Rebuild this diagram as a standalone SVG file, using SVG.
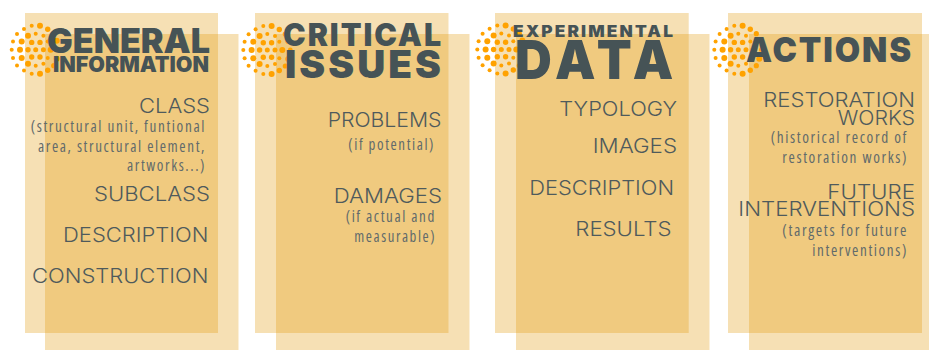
<svg xmlns="http://www.w3.org/2000/svg" width="929" height="350" viewBox="0 0 929 350">
<style>
.panel{fill:#e19808;fill-opacity:.3}
.burst circle{fill:#ffa200}
text{font-family:"Inter","Liberation Sans",sans-serif}
.t{font-weight:900;fill:#465356}
.h{font-weight:300;font-size:20px;fill:#4f5a5c}
.n{font-family:"Open Sans","Liberation Sans",sans-serif;font-stretch:75%;font-weight:400;font-size:17px;letter-spacing:1.8px;fill:#626a6b}
</style>
<defs>
<g id="burst" class="burst">
<circle cx="-24" cy="0" r="2"/><circle cx="-15.7" cy="0" r="3"/><circle cx="-7.7" cy="0" r="2.7"/><circle cx="0" cy="0" r="2.5"/><circle cx="7.7" cy="0" r="2.5"/><circle cx="15" cy="0" r="3"/><circle cx="23" cy="0" r="2.4"/>
<circle cx="-22.7" cy="-8.3" r="2"/><circle cx="-14" cy="-8.3" r="3"/><circle cx="-4" cy="-7.3" r="2.7"/><circle cx="4.3" cy="-7.3" r="2.7"/><circle cx="12" cy="-8.3" r="2"/><circle cx="21" cy="-9" r="3"/>
<circle cx="-22.7" cy="8.3" r="2"/><circle cx="-14" cy="8.3" r="3"/><circle cx="-4" cy="7.3" r="2.7"/><circle cx="4.3" cy="7.3" r="2.7"/><circle cx="12" cy="8.3" r="2"/><circle cx="21" cy="9" r="3"/>
<circle cx="-18.7" cy="-15.7" r="2"/><circle cx="-7.7" cy="-14" r="3"/><circle cx="0" cy="-16" r="2"/><circle cx="7.7" cy="-14" r="2"/><circle cx="18" cy="-16" r="2.6"/>
<circle cx="-18.7" cy="15.7" r="2"/><circle cx="-7.7" cy="14" r="3"/><circle cx="0" cy="16" r="2"/><circle cx="7.7" cy="14" r="2"/><circle cx="18" cy="16" r="2.6"/>
<circle cx="-11.7" cy="-20.7" r="2"/><circle cx="12" cy="-20.5" r="2.7"/><circle cx="-4" cy="-24" r="2"/><circle cx="4.3" cy="-24" r="3"/>
<circle cx="-11.7" cy="20.7" r="2"/><circle cx="12" cy="20.5" r="2.7"/><circle cx="-4" cy="24" r="2"/><circle cx="4.3" cy="24" r="3"/>
</g>
</defs>
<rect width="929" height="350" fill="#fff"/>
<g id="general-information">
<rect class="panel" x="25" y="13" width="193" height="320"/>
<rect class="panel" x="45" y="34" width="193.500" height="316"/>
<use href="#burst" x="35.700" y="49.700"/>
<text class="t" x="47" y="52.700" font-size="33.700" textLength="163" lengthAdjust="spacingAndGlyphs">GENERAL</text>
<text class="t" x="53" y="71.700" font-size="22" textLength="156" lengthAdjust="spacingAndGlyphs">INFORMATION</text>
<text class="h" x="139" y="113.300" textLength="71" lengthAdjust="spacingAndGlyphs">CLASS</text>
<text class="n" x="30.700" y="131.700" textLength="175.300" lengthAdjust="spacingAndGlyphs">(structural unit, funtional</text>
<text class="n" x="38" y="151.700" textLength="168" lengthAdjust="spacingAndGlyphs">area, structural element,</text>
<text class="n" x="127" y="171" textLength="79" lengthAdjust="spacingAndGlyphs">artworks...)</text>
<text class="h" x="94" y="200.700" textLength="116" lengthAdjust="spacingAndGlyphs">SUBCLASS</text>
<text class="h" x="63" y="241.700" textLength="145.500" lengthAdjust="spacingAndGlyphs">DESCRIPTION</text>
<text class="h" x="32" y="283.300" textLength="176.500" lengthAdjust="spacingAndGlyphs">CONSTRUCTION</text>
</g>
<g id="critical-issues">
<rect class="panel" x="255" y="13" width="193.500" height="320"/>
<rect class="panel" x="276" y="34" width="193.500" height="316"/>
<use href="#burst" x="267.300" y="50"/>
<text class="t" x="283" y="45.700" font-size="31" letter-spacing="2" textLength="160" lengthAdjust="spacingAndGlyphs">CRITICAL</text>
<text class="t" x="285" y="77.700" font-size="38" letter-spacing="3" textLength="159" lengthAdjust="spacingAndGlyphs">ISSUES</text>
<text class="h" x="327.700" y="126.700" textLength="113.800" lengthAdjust="spacingAndGlyphs">PROBLEMS</text>
<text class="n" x="348.300" y="150" textLength="86.700" lengthAdjust="spacingAndGlyphs">(if potential)</text>
<text class="h" x="333.700" y="202.700" textLength="108.300" lengthAdjust="spacingAndGlyphs">DAMAGES</text>
<text class="n" x="345.700" y="222.300" textLength="90.300" lengthAdjust="spacingAndGlyphs">(if actual and</text>
<text class="n" x="354.300" y="241.700" textLength="81.700" lengthAdjust="spacingAndGlyphs">measurable)</text>
</g>
<g id="experimental-data">
<rect class="panel" x="495" y="13" width="193.700" height="320"/>
<rect class="panel" x="516" y="34" width="193.500" height="316"/>
<use href="#burst" x="501.300" y="49.500"/>
<text class="t" x="513" y="37.300" font-size="16" letter-spacing="2" textLength="162" lengthAdjust="spacingAndGlyphs">EXPERIMENTAL</text>
<text class="t" x="515" y="79.300" font-size="53" letter-spacing="6" textLength="164" lengthAdjust="spacingAndGlyphs">DATA</text>
<text class="h" x="559.300" y="116" textLength="117.700" lengthAdjust="spacingAndGlyphs">TYPOLOGY</text>
<text class="h" x="592.700" y="152.700" textLength="84.300" lengthAdjust="spacingAndGlyphs">IMAGES</text>
<text class="h" x="529.300" y="194.700" textLength="144.700" lengthAdjust="spacingAndGlyphs">DESCRIPTION</text>
<text class="h" x="575.300" y="236" textLength="96.200" lengthAdjust="spacingAndGlyphs">RESULTS</text>
</g>
<g id="actions">
<rect class="panel" x="728" y="13" width="194" height="320"/>
<rect class="panel" x="749" y="34" width="193.500" height="316"/>
<use href="#burst" x="738.300" y="49.700"/>
<text class="t" x="746" y="62.300" font-size="34.500" letter-spacing="2" textLength="167" lengthAdjust="spacingAndGlyphs">ACTIONS</text>
<text class="h" x="763.300" y="107.300" textLength="151.700" lengthAdjust="spacingAndGlyphs">RESTORATION</text>
<text class="h" x="837.700" y="125" textLength="77.300" lengthAdjust="spacingAndGlyphs">WORKS</text>
<text class="n" x="770.700" y="143.300" textLength="137.300" lengthAdjust="spacingAndGlyphs">(historical record of</text>
<text class="n" x="782.300" y="163.300" textLength="125.700" lengthAdjust="spacingAndGlyphs">restoration works)</text>
<text class="h" x="827.300" y="199" textLength="87.700" lengthAdjust="spacingAndGlyphs">FUTURE</text>
<text class="h" x="738.300" y="216" textLength="176.700" lengthAdjust="spacingAndGlyphs">INTERVENTIONS</text>
<text class="n" x="782.300" y="236" textLength="125.700" lengthAdjust="spacingAndGlyphs">(targets for future</text>
<text class="n" x="812.300" y="255.700" textLength="95.700" lengthAdjust="spacingAndGlyphs">interventions)</text>
</g>
</svg>
